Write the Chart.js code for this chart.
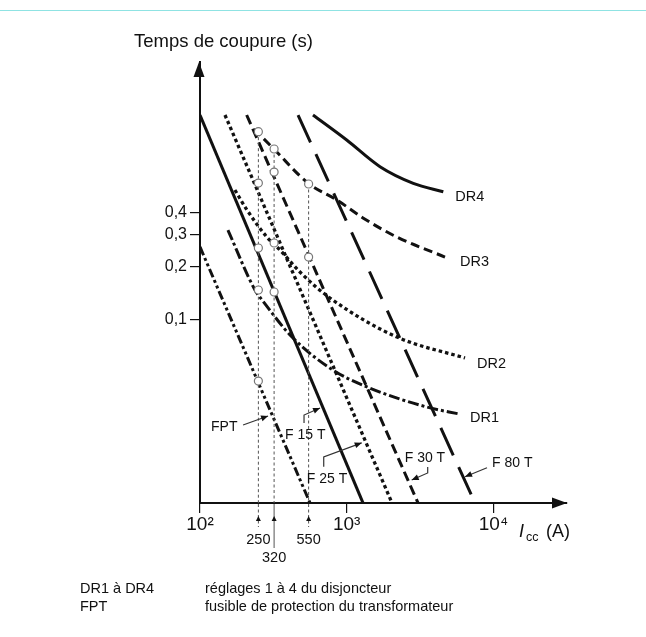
<!DOCTYPE html>
<html>
<head>
<meta charset="utf-8">
<script src="https://cdn.jsdelivr.net/npm/chart.js@4/dist/chart.umd.min.js"></script>
<style>
  html, body { margin: 0; padding: 0; background: #fff; }
  #wrap { position: relative; width: 646px; height: 637px; }
  #wrap canvas { position: absolute; left: 0; top: 0; }
  #topline { position: absolute; left: 0; top: 10px; width: 646px; height: 1px; background: #8fe3e3; }
</style>
</head>
<body>
<div id="wrap">
  <canvas id="chart" width="646" height="637"></canvas>
  <div id="topline"></div>
</div>
<script>
const fptX = [100, 562];
const fptY = [0.257, 0.0092];
const f15X = [100, 1291];
const f15Y = [1.43, 0.0092];
const f25X = [148, 2036];
const f25Y = [1.43, 0.0092];
const f30X = [208, 3062];
const f30Y = [1.43, 0.0092];
const f80X = [466, 7493];
const f80Y = [1.43, 0.0092];

const dr4X = [589, 1000, 1687, 2844, 4556];
const dr4Y = [1.43, 1.033, 0.730, 0.588, 0.527];
const dr3X = [233, 319, 545, 859, 1291, 2202, 4677];
const dr3Y = [1.192, 0.919, 0.590, 0.473, 0.375, 0.292, 0.2254];
const dr2X = [173, 209, 286, 351, 480, 769, 2202, 6404];
const dr2Y = [0.539, 0.416, 0.292, 0.247, 0.1855, 0.1323, 0.0796, 0.0606];
const dr1X = [155, 237, 265, 424, 806, 1375, 3527, 5920];
const dr1Y = [0.320, 0.1468, 0.129, 0.0796, 0.0518, 0.0416, 0.0320, 0.0292];

// courants de repère et points d'intersection
const guideX = [250, 320, 550];
const circles250 = [1.151, 0.590, 0.2535, 0.1468, 0.0449];
const circles320 = [0.919, 0.681, 0.2705, 0.143];
const circles550 = [0.583, 0.2254];

const yTicks = [0.1, 0.2, 0.3, 0.4];
const xTicks = [100, 1000, 10000];
const xTickLabels = ['10²', '10³', '10⁴'];

const X_MIN = 100, X_MAX = 31750, Y_MIN = 0.00919, Y_MAX = 2.85;

const FONT = '"Liberation Sans", Arial, Helvetica, sans-serif';
const ink = '#111';

function pts(xs, ys) { return xs.map((x, i) => ({ x, y: ys[i] })); }

function curve(xs, ys, dash, width, extra) {
  return Object.assign({
    data: pts(xs, ys),
    showLine: true,
    borderColor: ink,
    borderWidth: width || 3,
    borderDash: dash,
    borderCapStyle: 'butt',
    pointRadius: 0,
    fill: false,
    order: 2
  }, extra || {});
}

const smooth = { cubicInterpolationMode: 'monotone' };
const dotted = [3.5, 3], dashed = [10, 5], longDash = [30, 13];
const dashDot = [11, 3, 3, 3], dashDotDot = [9, 3, 3, 3, 3, 3];

const allCircles = []
  .concat(circles250.map(y => ({ x: guideX[0], y })))
  .concat(circles320.map(y => ({ x: guideX[1], y })))
  .concat(circles550.map(y => ({ x: guideX[2], y })));

const guideTops = [circles250[0], circles320[0], circles550[0]];

const datasets = [
  curve(fptX, fptY, dashDotDot),
  curve(f15X, f15Y, []),
  curve(f25X, f25Y, dotted, 3.3),
  curve(f30X, f30Y, dashed),
  curve(f80X, f80Y, longDash),
  curve(dr4X, dr4Y, [], 3, smooth),
  curve(dr3X, dr3Y, [9, 5], 3, smooth),
  curve(dr2X, dr2Y, dotted, 3.3, smooth),
  curve(dr1X, dr1Y, dashDot, 3, smooth)
];
guideX.forEach((gx, i) => {
  datasets.push(curve([gx, gx], [guideTops[i], Y_MIN], [3, 2.5], 1, { borderColor: '#555', order: 1 }));
});
datasets.push({
  data: allCircles,
  showLine: false,
  pointRadius: 4,
  pointBackgroundColor: '#fff',
  pointBorderColor: '#777',
  pointBorderWidth: 1.2,
  order: 0
});

const drLabels = [
  { text: 'DR4', xs: dr4X, ys: dr4Y, dx: 12, dy: 5 },
  { text: 'DR3', xs: dr3X, ys: dr3Y, dx: 15, dy: 5 },
  { text: 'DR2', xs: dr2X, ys: dr2Y, dx: 12, dy: 6 },
  { text: 'DR1', xs: dr1X, ys: dr1Y, dx: 10, dy: 4 }
];

// étiquettes des fusibles : pointe de flèche sur la courbe, tracé et texte en décalage
const fLabels = [
  { text: 'FPT', tip: [291, 0.0285], path: [[-25, 9]], at: [-57, 11] },
  { text: 'F 15 T', tip: [658, 0.0316], path: [[-16, 15], [-16, 7]], at: [-35, 27] },
  { text: 'F 25 T', tip: [1266, 0.0201], path: [[-38, 24], [-38, 14]], at: [-55, 36] },
  { text: 'F 30 T', tip: [2774, 0.0124], path: [[16, -13], [16, -7]], at: [-7, -22] },
  { text: 'F 80 T', tip: [6404, 0.01294], path: [[22, -9]], at: [27, -14] }
];

function head(ctx, x, y, ang, len, half) {
  ctx.save();
  ctx.translate(x, y);
  ctx.rotate(ang);
  ctx.beginPath();
  ctx.moveTo(0, 0);
  ctx.lineTo(-len, -half);
  ctx.lineTo(-len, half);
  ctx.closePath();
  ctx.fill();
  ctx.restore();
}

const decor = {
  id: 'decor',
  afterDraw(chart) {
    const ctx = chart.ctx, a = chart.chartArea;
    const sx = chart.scales.x, sy = chart.scales.y;
    ctx.save();
    ctx.fillStyle = ink;
    ctx.strokeStyle = ink;

    // flèches des axes
    head(ctx, a.left - 1, a.top, -Math.PI / 2, 15, 5.5);
    head(ctx, a.right, a.bottom, 0, 15, 5.5);

    // repères sous l'axe des abscisses
    ctx.font = '14.5px ' + FONT;
    ctx.textAlign = 'center';
    ctx.textBaseline = 'middle';
    guideX.forEach((gx, i) => {
      const px = sx.getPixelForValue(gx);
      const long = i === 1;
      ctx.lineWidth = 1;
      ctx.setLineDash(long ? [] : [3, 2.5]);
      ctx.strokeStyle = '#555';
      ctx.beginPath();
      ctx.moveTo(px, a.bottom + 1);
      ctx.lineTo(px, a.bottom + (long ? 45 : 24));
      ctx.stroke();
      ctx.setLineDash([]);
      ctx.fillStyle = ink;
      head(ctx, px, a.bottom + 13, -Math.PI / 2, 5, 2.5);
      ctx.fillText(String(gx), px, a.bottom + (long ? 55 : 37));
    });

    // noms des réglages du disjoncteur
    ctx.font = '14.5px ' + FONT;
    ctx.textAlign = 'left';
    drLabels.forEach(l => {
      const n = l.xs.length - 1;
      ctx.fillText(l.text, sx.getPixelForValue(l.xs[n]) + l.dx, sy.getPixelForValue(l.ys[n]) + l.dy);
    });

    // noms des fusibles avec flèches
    ctx.font = '14px ' + FONT;
    fLabels.forEach(l => {
      const tx = sx.getPixelForValue(l.tip[0]), ty = sy.getPixelForValue(l.tip[1]);
      const p = l.path.map(o => [tx + o[0], ty + o[1]]);
      ctx.lineWidth = 1.2;
      ctx.strokeStyle = '#333';
      ctx.beginPath();
      ctx.moveTo(p[0][0], p[0][1]);
      p.slice(1).forEach(q => ctx.lineTo(q[0], q[1]));
      ctx.lineTo(tx, ty);
      ctx.stroke();
      const last = p[p.length - 1];
      head(ctx, tx, ty, Math.atan2(ty - last[1], tx - last[0]), 7, 3);
      ctx.fillText(l.text, tx + l.at[0], ty + l.at[1]);
    });

    // titres des axes
    ctx.textBaseline = 'alphabetic';
    ctx.font = '18.5px ' + FONT;
    ctx.fillText('Temps de coupure (s)', 134, 47);
    ctx.font = 'italic 18px ' + FONT;
    ctx.fillText('I', 519, 537);
    ctx.font = '12.5px ' + FONT;
    ctx.fillText('cc', 526, 541);
    ctx.font = '18px ' + FONT;
    ctx.fillText('(A)', 546, 537);

    // légende en bas
    ctx.font = '14.5px ' + FONT;
    ctx.fillText('DR1 à DR4', 80, 593);
    ctx.fillText('réglages 1 à 4 du disjoncteur', 205, 593);
    ctx.fillText('FPT', 80, 611);
    ctx.fillText('fusible de protection du transformateur', 205, 611);
    ctx.restore();
  }
};

new Chart(document.getElementById('chart'), {
  type: 'scatter',
  data: { datasets },
  options: {
    responsive: false,
    animation: false,
    events: [],
    layout: { padding: { left: 0, top: 62, right: 79, bottom: 0 } },
    plugins: { legend: { display: false }, tooltip: { enabled: false } },
    scales: {
      x: {
        type: 'logarithmic',
        min: X_MIN,
        max: X_MAX,
        afterBuildTicks: s => { s.ticks = xTicks.map(v => ({ value: v })); },
        afterFit: s => { s.height = 134; },
        ticks: {
          color: ink,
          font: { size: 19, family: FONT },
          padding: 0,
          maxRotation: 0,
          autoSkip: false,
          callback: v => xTickLabels[xTicks.indexOf(v)]
        },
        grid: { drawOnChartArea: false, drawTicks: true, tickLength: 10, color: ink, lineWidth: 1.2 },
        border: { display: true, color: ink, width: 2 }
      },
      y: {
        type: 'logarithmic',
        min: Y_MIN,
        max: Y_MAX,
        afterBuildTicks: s => { s.ticks = yTicks.map(v => ({ value: v })); },
        afterFit: s => { s.width = 200; },
        ticks: {
          color: ink,
          font: { size: 16, family: FONT },
          padding: 3,
          autoSkip: false,
          callback: v => String(v).replace('.', ',')
        },
        grid: { drawOnChartArea: false, drawTicks: true, tickLength: 10, color: ink, lineWidth: 1.2 },
        border: { display: true, color: ink, width: 2 }
      }
    }
  },
  plugins: [decor]
});
</script>
</body>
</html>
